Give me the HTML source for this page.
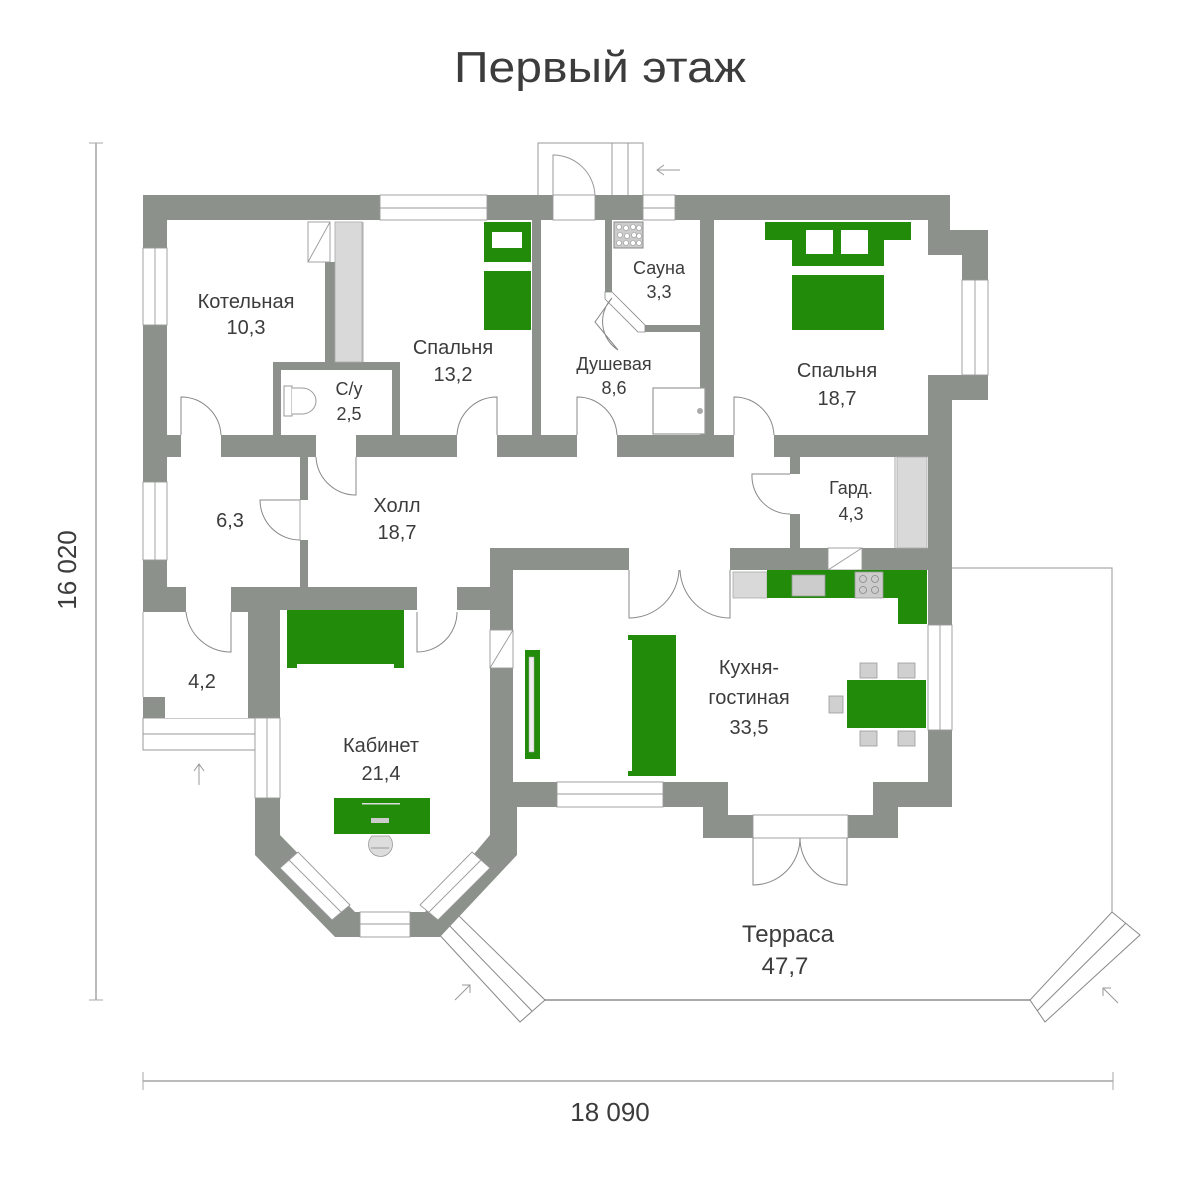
<!DOCTYPE html>
<html><head><meta charset="utf-8"><style>
html,body{margin:0;padding:0;background:#fff;}
svg{display:block;}
text{font-family:"Liberation Sans","DejaVu Sans",sans-serif;fill:#3c3c3c;}
</style></head><body>
<svg width="1198" height="1200" viewBox="0 0 1198 1200" xmlns="http://www.w3.org/2000/svg">
<rect width="1198" height="1200" fill="#fff"/>
<text x="600" y="82" font-size="44" text-anchor="middle" textLength="292" lengthAdjust="spacingAndGlyphs" style="font-weight:300">Первый этаж</text>

<g stroke="#bbb" stroke-width="2" fill="none">
<line x1="96" y1="143" x2="96" y2="1000"/>
<line x1="143" y1="1081" x2="1113" y2="1081"/>
</g>
<g stroke="#aaa" stroke-width="1">
<line x1="89" y1="143" x2="103" y2="143"/><line x1="89" y1="1000" x2="103" y2="1000"/>
<line x1="143" y1="1072" x2="143" y2="1090"/><line x1="1113" y1="1072" x2="1113" y2="1090"/>
</g>
<text x="610" y="1121" font-size="26" text-anchor="middle" style="font-weight:300">18 090</text>
<text transform="translate(76,570) rotate(-90)" font-size="26" text-anchor="middle" style="font-weight:300">16 020</text>

<g stroke="#aaa" stroke-width="1.2" fill="none">
<polyline points="952,568 1112,568 1112,912"/>
<line x1="545" y1="1000" x2="1030" y2="1000" stroke-width="2"/>
</g>
<g stroke="#888" stroke-width="1" fill="#fff">
<polygon points="435,930 455,912 545,1000 520,1022"/>
<line x1="445" y1="921" x2="532" y2="1011"/>
<polygon points="1112,912 1140,935 1045,1022 1030,1000"/>
<line x1="1126" y1="923" x2="1037" y2="1011"/>
</g>

<g stroke="#999" stroke-width="1" fill="#fff">
<rect x="538" y="143" width="105" height="53"/>
<line x1="612" y1="143" x2="612" y2="196"/><line x1="628" y1="143" x2="628" y2="196"/>
<path d="M553 196 V155 A42 42 0 0 1 595 196" fill="none"/>
</g>
<g stroke="#999" stroke-width="1" fill="#fff">
<rect x="143" y="718" width="112" height="32"/>
<line x1="143" y1="734" x2="255" y2="734"/>
</g>

<polygon fill="#8c918b" points="143,195 950,195 950,230 988,230 988,400 952,400 952,807 898,807 898,838 703,838 703,807 517,807 517,855 440,937 335,937 255,855 255,718 143,718"/>

<g fill="#fff">
<polygon points="167,220 325,220 325,362 273,362 273,435 167,435"/>
<rect x="325" y="220" width="43" height="42"/>
<rect x="335" y="220" width="33" height="142"/>
<rect x="281" y="370" width="111" height="65"/>
<rect x="368" y="220" width="164" height="142"/>
<rect x="400" y="362" width="132" height="73"/>
<polygon points="541,220 605,220 605,295 643,332 700,332 700,435 541,435"/>
<polygon points="612,220 700,220 700,325 645,325 612,292"/>
<polygon points="714,220 928,220 928,255 962,255 962,375 928,375 928,435 714,435"/>
<rect x="167" y="457" width="133" height="130"/>
<polygon points="308,457 790,457 790,548 490,548 490,587 308,587"/>
<rect x="800" y="457" width="128" height="91"/>
<rect x="143" y="612" width="105" height="106"/>
<polygon points="280,610 490,610 490,835 425,912 355,912 280,835"/>
<polygon points="513,570 928,570 928,782 873,782 873,815 728,815 728,782 513,782"/>
</g>
<rect x="143" y="697" width="22" height="21" fill="#8c918b"/>
<line x1="143" y1="612" x2="143" y2="697" stroke="#aaa" stroke-width="1"/>

<g fill="#d9d9d9" stroke="#aaa" stroke-width="0.8">
<rect x="335" y="222" width="27" height="140"/>
<rect x="897" y="457" width="30" height="91"/>
<rect x="733" y="572" width="34" height="26"/>
</g>
<line x1="363" y1="222" x2="363" y2="362" stroke="#aaa" stroke-width="1"/>
<line x1="895" y1="457" x2="895" y2="548" stroke="#aaa" stroke-width="1"/>

<g fill="#fff" stroke="#999" stroke-width="0.9">
<rect x="380" y="195" width="107" height="25"/><line x1="380" y1="208" x2="487" y2="208"/>
<rect x="643" y="195" width="32" height="25"/><line x1="643" y1="208" x2="675" y2="208"/>
<rect x="553" y="195" width="42" height="25"/>
<rect x="143" y="248" width="24" height="77"/><line x1="155" y1="248" x2="155" y2="325"/>
<rect x="143" y="482" width="24" height="78"/><line x1="155" y1="482" x2="155" y2="560"/>
<rect x="962" y="280" width="26" height="95"/><line x1="975" y1="280" x2="975" y2="375"/>
<rect x="928" y="625" width="24" height="105"/><line x1="940" y1="625" x2="940" y2="730"/>
<rect x="557" y="782" width="106" height="25"/><line x1="557" y1="794" x2="663" y2="794"/>
<rect x="255" y="718" width="25" height="80"/><line x1="267" y1="718" x2="267" y2="798"/>
<rect x="360" y="912" width="50" height="25"/><line x1="360" y1="924" x2="410" y2="924"/>
<polygon points="280,868 298,852 350,905 332,920"/><line x1="289" y1="860" x2="341" y2="912"/>
<polygon points="490,868 472,852 420,905 438,920"/><line x1="481" y1="860" x2="429" y2="912"/>
<rect x="753" y="815" width="95" height="23"/>
<rect x="181" y="435" width="40" height="22" stroke="none"/>
<rect x="316" y="435" width="40" height="22" stroke="none"/>
<rect x="457" y="435" width="40" height="22" stroke="none"/>
<rect x="577" y="435" width="40" height="22" stroke="none"/>
<rect x="734" y="435" width="40" height="22" stroke="none"/>
<rect x="300" y="500" width="8" height="40" stroke="none"/>
<rect x="790" y="474" width="10" height="40" stroke="none"/>
<rect x="186" y="587" width="45" height="25" stroke="none"/>
<rect x="417" y="587" width="40" height="25" stroke="none"/>
<rect x="629" y="548" width="101" height="22" stroke="none"/>
<rect x="490" y="630" width="23" height="38"/><line x1="490" y1="668" x2="513" y2="630"/>
<rect x="828" y="548" width="34" height="22"/><line x1="828" y1="570" x2="862" y2="548"/>
<rect x="308" y="222" width="22" height="40"/><line x1="308" y1="262" x2="330" y2="222"/>
</g>

<g fill="none" stroke="#888" stroke-width="1">
<path d="M181 435 V397 A40 40 0 0 1 221 435"/>
<path d="M497 435 V397 A40 40 0 0 0 457 435"/>
<path d="M577 435 V397 A40 40 0 0 1 617 435"/>
<path d="M734 435 V397 A40 40 0 0 1 774 435"/>
<path d="M356 457 V495 A40 40 0 0 1 316 457"/>
<path d="M300 500 H260 A40 40 0 0 0 300 540"/>
<path d="M790 474 H752 A38 38 0 0 0 790 514" />
<path d="M231 612 V652 A45 45 0 0 1 186 612"/>
<path d="M417 612 V652 A40 40 0 0 0 457 612"/>
<path d="M629 570 V618 A50 50 0 0 0 679 570"/>
<path d="M730 570 V618 A50 50 0 0 1 680 570"/>
<path d="M753 838 V885 A47 47 0 0 0 800 838"/>
<path d="M847 838 V885 A47 47 0 0 1 800 838"/>
<line x1="300" y1="500" x2="300" y2="540" stroke="#aaa"/>
</g>
<polygon points="605,292 612,292 645,325 645,332 638,332 605,299" fill="#fff" stroke="#888" stroke-width="0.8"/>
<path d="M612 298 L595 322 L618 350 A34 34 0 0 1 612 298" fill="none" stroke="#888" stroke-width="1"/>

<rect x="614" y="222" width="29" height="26" fill="#ccc" stroke="#888" stroke-width="1"/>
<g fill="#fff" stroke="#999" stroke-width="0.6">
<circle cx="619" cy="227" r="2.5"/><circle cx="626" cy="228" r="2.5"/><circle cx="633" cy="227" r="2.5"/><circle cx="639" cy="228" r="2.5"/>
<circle cx="620" cy="235" r="2.5"/><circle cx="627" cy="236" r="2.5"/><circle cx="634" cy="235" r="2.5"/><circle cx="639" cy="236" r="2.5"/>
<circle cx="619" cy="243" r="2.5"/><circle cx="626" cy="243" r="2.5"/><circle cx="633" cy="243" r="2.5"/><circle cx="639" cy="243" r="2.5"/>
</g>
<rect x="653" y="388" width="52" height="46" fill="#fff" stroke="#999" stroke-width="1.2"/>
<circle cx="700" cy="411" r="3" fill="#aaa"/>
<rect x="284" y="386" width="8" height="30" fill="#fff" stroke="#999"/>
<path d="M292 388 H302 A14 13 0 0 1 302 414 H292" fill="#fff" stroke="#999"/>

<g fill="#228b0a">
<rect x="484" y="222" width="47" height="108"/>
<rect x="765" y="222" width="146" height="18"/>
<rect x="792" y="222" width="92" height="108"/>
<rect x="287" y="610" width="117" height="58"/>
<rect x="334" y="798" width="96" height="36"/>
<rect x="525" y="650" width="15" height="109"/>
<rect x="628" y="635" width="48" height="141"/>
<rect x="767" y="570" width="160" height="28"/>
<rect x="898" y="570" width="29" height="54"/>
<rect x="847" y="680" width="79" height="48"/>
</g>
<g fill="#fff">
<rect x="492" y="232" width="30" height="16"/>
<rect x="484" y="262" width="47" height="9"/>
<rect x="806" y="230" width="27" height="24"/>
<rect x="841" y="230" width="27" height="24"/>
<rect x="792" y="266" width="92" height="9"/>
<rect x="297" y="664" width="97" height="8"/>
<rect x="529" y="657" width="5" height="95" stroke="#aaa" stroke-width="0.5" fill="#eee"/>
<rect x="628" y="640" width="4" height="131"/>
<rect x="362" y="803" width="38" height="1.5" fill="#ddd"/>
<rect x="371" y="818" width="18" height="5" fill="#ccc"/>
</g>
<path d="M372 836 A12 12 0 1 0 389 836 Z" fill="#ddd" stroke="#999" stroke-width="0.8"/>
<line x1="371" y1="848" x2="389" y2="848" stroke="#999"/>
<rect x="792" y="575" width="33" height="21" fill="#ccc" stroke="#999" stroke-width="0.8"/>
<rect x="855" y="572" width="28" height="26" fill="#ccc" stroke="#999" stroke-width="0.8"/>
<g fill="none" stroke="#888" stroke-width="0.8">
<circle cx="863" cy="579" r="3.5"/><circle cx="875" cy="579" r="3.5"/><circle cx="863" cy="590" r="3.5"/><circle cx="875" cy="590" r="3.5"/>
</g>
<g fill="#d0d0d0" stroke="#999" stroke-width="0.8">
<rect x="860" y="663" width="17" height="15"/><rect x="898" y="663" width="17" height="15"/>
<rect x="860" y="731" width="17" height="15"/><rect x="898" y="731" width="17" height="15"/>
<rect x="829" y="696" width="14" height="17"/>
</g>

<g stroke="#999" stroke-width="1" fill="none">
<path d="M680 170 H657 M664 165 L657 170 L664 175"/>
<path d="M199 785 V764 M194 771 L199 764 L204 771"/>
<path d="M455 1000 L470 985 M462 985 H470 V993"/>
<path d="M1118 1003 L1103 988 M1103 996 V988 H1111"/>
</g>

<g font-size="20" text-anchor="middle">
<text x="246" y="308">Котельная</text><text x="246" y="334">10,3</text>
<text x="349" y="395" font-size="18">С/у</text><text x="349" y="420" font-size="18">2,5</text>
<text x="453" y="354">Спальня</text><text x="453" y="381">13,2</text>
<text x="659" y="274" font-size="18">Сауна</text><text x="659" y="298" font-size="18">3,3</text>
<text x="614" y="370" font-size="18">Душевая</text><text x="614" y="394" font-size="18">8,6</text>
<text x="837" y="377">Спальня</text><text x="837" y="405">18,7</text>
<text x="230" y="527">6,3</text>
<text x="397" y="512">Холл</text><text x="397" y="539">18,7</text>
<text x="851" y="494" font-size="18">Гард.</text><text x="851" y="520" font-size="18">4,3</text>
<text x="202" y="688">4,2</text>
<text x="381" y="752">Кабинет</text><text x="381" y="780">21,4</text>
<text x="749" y="674">Кухня-</text><text x="749" y="704">гостиная</text><text x="749" y="734">33,5</text>
<text x="788" y="942" font-size="24">Терраса</text><text x="785" y="974" font-size="24">47,7</text>
</g>
</svg>
</body></html>
